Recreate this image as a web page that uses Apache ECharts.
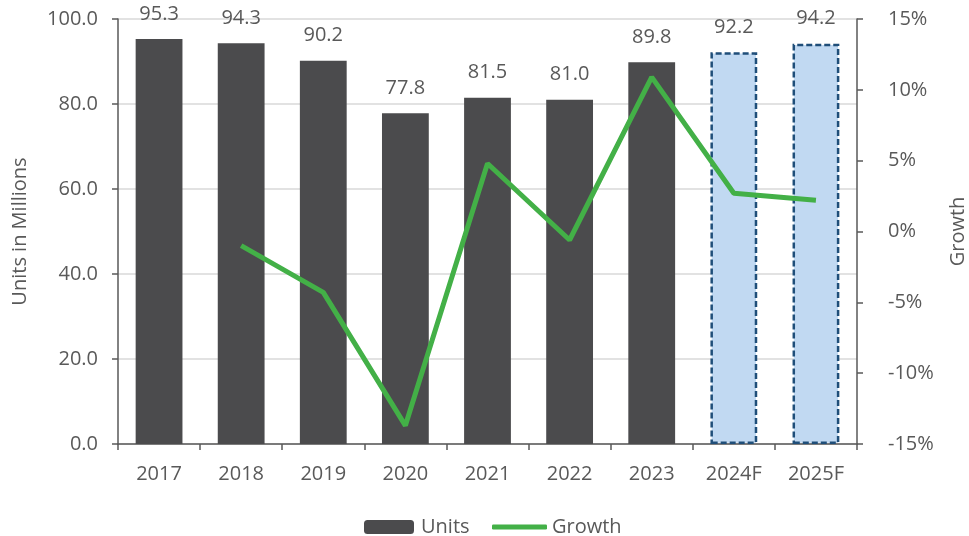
<!DOCTYPE html>
<html>
<head>
<meta charset="utf-8">
<script src="https://cdn.jsdelivr.net/npm/echarts@6/dist/echarts.min.js"></script>
<style>
html,body{margin:0;padding:0;background:#fff;}
#chart{width:969px;height:536px;}
</style>
</head>
<body>
<div id="chart"></div>
<script>
const categories = ['2017','2018','2019','2020','2021','2022','2023','2024F','2025F'];
const units = [95.3, 94.3, 90.2, 77.8, 81.5, 81.0, 89.8, 92.2, 94.2];
const growth = [null, -1.0, -4.3, -13.7, 4.8, -0.6, 10.9, 2.7, 2.2];
const leftTicks = {min: 0, max: 100, interval: 20};
const rightTicks = {min: -15, max: 15, interval: 5};

const FONT = '"Open Sans", sans-serif';
const FS = 20;
const TXT = '#595959';
const AXIS = '#595959';

const barData = units.map((v, i) => {
  if (categories[i].endsWith('F')) {
    return {
      value: v,
      itemStyle: {
        color: '#c1d9f2',
        borderColor: '#1f4e79',
        borderWidth: 2.5,
        borderType: [6, 3]
      }
    };
  }
  return v;
});

const chart = echarts.init(document.getElementById('chart'), null, {renderer: 'canvas'});
chart.setOption({
  animation: false,
  textStyle: {fontFamily: FONT},
  grid: {left: 118, right: 112, top: 19, bottom: 92, containLabel: false, outerBoundsMode: 'none'},
  legend: [
    {
      data: ['Units'], left: 364, top: 517, padding: 0,
      itemWidth: 50, itemHeight: 14, itemGap: 7,
      textStyle: {color: TXT, fontSize: FS, fontFamily: FONT, padding: [0, 0, 0, 2]}
    },
    {
      data: [{name: 'Growth', icon: 'roundRect'}], left: 492, top: 517, padding: 0,
      itemWidth: 55, itemHeight: 5,
      textStyle: {color: TXT, fontSize: FS, fontFamily: FONT}
    }
  ],
  xAxis: {
    type: 'category',
    data: categories,
    boundaryGap: true,
    axisLine: {lineStyle: {color: AXIS, width: 1.5}},
    axisTick: {show: true, alignWithLabel: false, length: 6, lineStyle: {color: AXIS, width: 1.5}},
    axisLabel: {color: TXT, fontSize: FS, margin: 20, fontFamily: FONT},
    splitLine: {show: false}
  },
  yAxis: [
    {
      type: 'value',
      min: leftTicks.min, max: leftTicks.max, interval: leftTicks.interval,
      position: 'left',
      name: 'Units in Millions',
      nameLocation: 'middle',
      nameRotate: 90,
      nameGap: 88,
      nameTextStyle: {color: TXT, fontSize: FS, fontFamily: FONT},
      axisLine: {show: true, lineStyle: {color: AXIS, width: 1.5}},
      axisTick: {show: true, length: 6, inside: false, lineStyle: {color: AXIS, width: 1.5}},
      axisLabel: {color: TXT, fontSize: FS, margin: 20, fontFamily: FONT, formatter: v => v.toFixed(1)},
      splitLine: {show: true, lineStyle: {color: '#d9d9d9', width: 1.5}}
    },
    {
      type: 'value',
      min: rightTicks.min, max: rightTicks.max, interval: rightTicks.interval,
      position: 'right',
      name: 'Growth',
      nameLocation: 'middle',
      nameRotate: 90,
      nameGap: 91,
      nameTextStyle: {color: TXT, fontSize: FS, fontFamily: FONT},
      axisLine: {show: true, lineStyle: {color: AXIS, width: 1.5}},
      axisTick: {show: true, length: 6, inside: false, lineStyle: {color: AXIS, width: 1.5}},
      axisLabel: {color: TXT, fontSize: FS, margin: 31, fontFamily: FONT, formatter: v => v + '%'},
      splitLine: {show: false}
    }
  ],
  series: [
    {
      name: 'Units',
      type: 'bar',
      yAxisIndex: 0,
      barWidth: '57%',
      data: barData,
      itemStyle: {color: '#4b4b4d'},
      label: {
        show: true, position: 'top', distance: 15,
        color: TXT, fontSize: FS, fontFamily: FONT,
        formatter: p => Number(p.value).toFixed(1)
      },
      z: 2
    },
    {
      name: 'Growth',
      type: 'line',
      yAxisIndex: 1,
      data: growth,
      symbol: 'none',
      connectNulls: false,
      lineStyle: {color: '#43b047', width: 5},
      itemStyle: {color: '#43b047'},
      z: 3
    }
  ]
});
</script>
</body>
</html>
